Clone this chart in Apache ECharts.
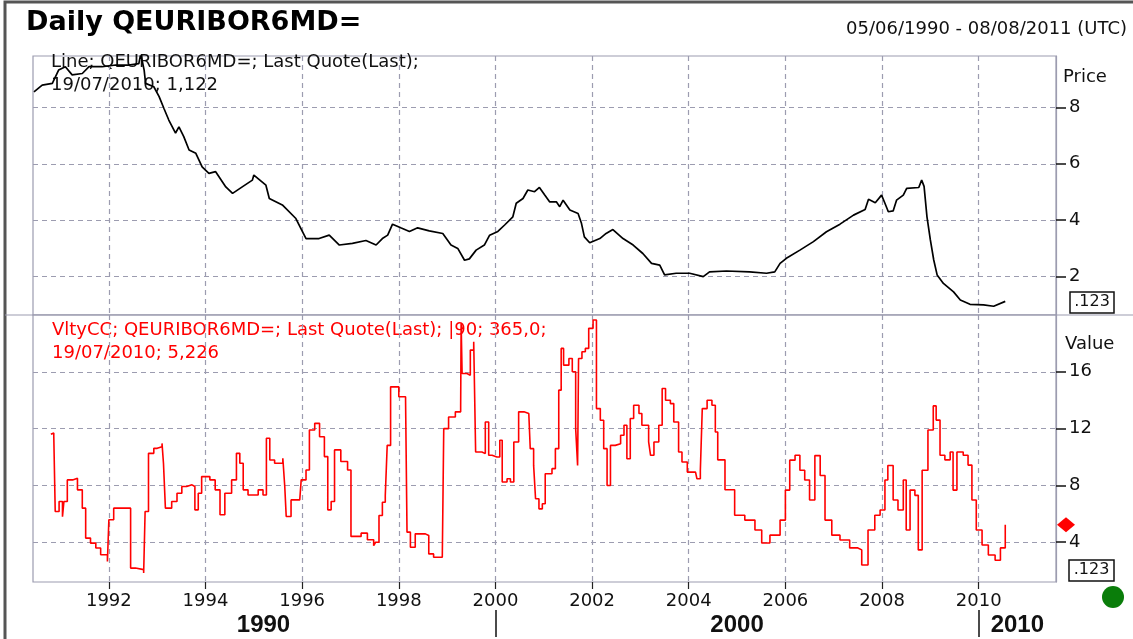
<!DOCTYPE html>
<html><head><meta charset="utf-8">
<script src="https://cdn.jsdelivr.net/npm/echarts@6/dist/echarts.min.js"></script>
<style>html,body{margin:0;padding:0;background:#fff}#c{width:1133px;height:639px}</style>
</head><body><div id="c"></div>
<script>
// ---- data (x values are decimal years) ----
const X_MIN = 1990.43;   // 05/06/1990
const X_MAX = 2011.60;   // 08/08/2011
const YEAR_TICKS = [1992, 1994, 1996, 1998, 2000, 2002, 2004, 2006, 2008, 2010];
const DECADE_LABELS = ['1990', '2000', '2010'];
const DECADE_LABEL_POS = [1995.2, 2005.0, 2010.8];
const DECADE_BREAKS = [2000, 2010];
const PRICE_TICKS = [2, 4, 6, 8];
const VALUE_TICKS = [4, 8, 12, 16];

const priceDates = [1990.45,1990.62,1990.83,1990.96,1991.10,1991.24,1991.45,1991.59,1991.86,1992.14,1992.41,1992.62,1992.66,1992.73,1992.76,1992.93,1993.04,1993.14,1993.24,1993.38,1993.45,1993.55,1993.66,1993.80,1993.93,1994.07,1994.21,1994.42,1994.56,1994.76,1994.97,1995.00,1995.25,1995.32,1995.59,1995.87,1996.08,1996.35,1996.56,1996.77,1997.04,1997.32,1997.53,1997.66,1997.77,1997.87,1998.04,1998.22,1998.39,1998.63,1998.91,1999.08,1999.22,1999.36,1999.46,1999.60,1999.77,1999.88,2000.05,2000.19,2000.36,2000.43,2000.57,2000.67,2000.81,2000.91,2001.02,2001.12,2001.26,2001.33,2001.40,2001.54,2001.71,2001.78,2001.84,2001.95,2002.16,2002.29,2002.43,2002.64,2002.85,2003.05,2003.23,2003.40,2003.50,2003.74,2004.02,2004.30,2004.43,2004.78,2005.26,2005.61,2005.78,2005.89,2006.02,2006.30,2006.58,2006.85,2007.13,2007.41,2007.65,2007.72,2007.86,2007.99,2008.06,2008.13,2008.23,2008.30,2008.44,2008.51,2008.76,2008.82,2008.87,2008.93,2009.00,2009.07,2009.14,2009.27,2009.48,2009.62,2009.82,2010.10,2010.31,2010.55];
const priceValues = [8.55,8.79,8.85,9.32,9.44,9.15,9.20,9.44,9.44,9.50,9.50,9.55,9.90,9.32,8.85,8.73,8.38,7.96,7.55,7.09,7.31,6.96,6.49,6.37,5.89,5.66,5.72,5.18,4.95,5.18,5.42,5.60,5.24,4.77,4.54,4.06,3.35,3.35,3.47,3.12,3.18,3.28,3.12,3.35,3.47,3.86,3.73,3.60,3.73,3.62,3.53,3.12,3.00,2.58,2.63,2.94,3.12,3.47,3.60,3.83,4.12,4.60,4.77,5.07,5.01,5.16,4.89,4.65,4.65,4.48,4.71,4.36,4.24,3.89,3.41,3.20,3.35,3.53,3.67,3.35,3.12,2.82,2.47,2.41,2.06,2.12,2.12,2.00,2.17,2.20,2.17,2.12,2.17,2.47,2.65,2.94,3.24,3.59,3.86,4.18,4.38,4.74,4.62,4.89,4.60,4.30,4.33,4.71,4.89,5.13,5.16,5.42,5.20,4.12,3.30,2.59,2.06,1.76,1.46,1.17,1.02,1.00,0.95,1.122];

const vltyDates = [1990.80,1990.83,1990.86,1990.89,1990.97,1991.04,1991.07,1991.14,1991.25,1991.35,1991.45,1991.52,1991.62,1991.73,1991.83,1991.97,1992.00,1992.10,1992.38,1992.45,1992.55,1992.72,1992.75,1992.82,1992.93,1993.00,1993.10,1993.13,1993.17,1993.30,1993.41,1993.51,1993.61,1993.72,1993.78,1993.85,1993.92,1994.09,1994.20,1994.30,1994.40,1994.54,1994.64,1994.71,1994.78,1994.88,1995.09,1995.19,1995.26,1995.33,1995.43,1995.60,1995.64,1995.67,1995.77,1995.95,1995.98,1996.08,1996.15,1996.26,1996.36,1996.46,1996.53,1996.60,1996.67,1996.80,1996.94,1997.01,1997.22,1997.35,1997.48,1997.52,1997.59,1997.66,1997.72,1997.76,1997.83,1997.90,1998.00,1998.14,1998.17,1998.24,1998.34,1998.55,1998.62,1998.72,1998.90,1998.93,1999.03,1999.17,1999.28,1999.29,1999.31,1999.41,1999.48,1999.55,1999.59,1999.72,1999.79,1999.86,1999.93,2000.03,2000.09,2000.14,2000.24,2000.31,2000.38,2000.48,2000.59,2000.69,2000.72,2000.79,2000.83,2000.90,2000.97,2001.03,2001.17,2001.24,2001.31,2001.36,2001.41,2001.52,2001.59,2001.66,2001.70,2001.72,2001.79,2001.86,2001.93,2002.02,2002.09,2002.17,2002.24,2002.31,2002.38,2002.48,2002.59,2002.66,2002.72,2002.79,2002.86,2002.97,2003.03,2003.10,2003.17,2003.21,2003.28,2003.38,2003.45,2003.52,2003.62,2003.69,2003.79,2003.86,2003.97,2004.14,2004.17,2004.24,2004.28,2004.38,2004.48,2004.55,2004.60,2004.75,2004.95,2005.16,2005.37,2005.51,2005.68,2005.89,2006.00,2006.09,2006.20,2006.30,2006.40,2006.50,2006.61,2006.72,2006.82,2006.96,2007.13,2007.33,2007.50,2007.58,2007.71,2007.85,2007.96,2008.06,2008.12,2008.23,2008.33,2008.44,2008.50,2008.58,2008.68,2008.75,2008.83,2008.95,2009.06,2009.12,2009.20,2009.30,2009.41,2009.47,2009.55,2009.68,2009.78,2009.86,2009.95,2010.07,2010.20,2010.34,2010.45,2010.55];
const vltyValues = [11.6,11.7,11.5,6.16,6.87,5.80,6.87,8.39,8.50,7.69,6.40,4.29,3.94,3.59,3.12,2.65,5.58,6.40,6.40,2.18,2.07,1.83,6.16,10.26,10.61,10.73,10.96,9.56,6.40,6.87,7.45,7.92,8.04,7.92,6.28,7.45,8.62,8.39,7.69,5.93,7.45,8.39,10.26,9.56,7.69,7.33,7.69,7.33,11.32,9.79,9.56,9.91,7.92,5.81,6.98,6.98,8.39,9.09,11.90,12.37,11.43,10.03,6.28,6.87,10.50,9.68,9.09,4.41,4.64,4.17,3.76,4.00,5.88,6.82,7.29,10.82,14.94,14.94,14.24,14.00,4.71,3.65,4.59,4.47,3.18,2.94,2.94,12.00,12.82,13.18,13.65,19.40,15.88,15.76,17.53,18.12,10.35,10.24,12.47,10.12,10.00,10.00,11.18,8.24,8.47,8.24,11.06,13.18,13.06,13.06,10.59,9.41,7.06,6.35,6.71,8.82,9.18,10.59,14.71,17.65,16.47,16.94,16.00,12.00,9.41,16.94,17.41,17.65,19.06,19.65,13.41,12.59,10.59,8.00,10.82,10.94,11.53,12.24,9.88,12.71,13.65,13.06,12.24,12.24,11.06,10.12,11.06,12.24,14.82,14.00,13.76,12.47,10.35,9.65,8.94,9.06,8.47,9.06,13.41,14.00,13.65,11.76,9.80,7.70,5.90,5.56,4.86,3.95,4.50,5.56,7.67,9.78,10.13,9.07,8.38,6.97,10.10,8.70,5.56,4.50,4.16,3.60,3.46,2.40,4.86,5.90,6.27,8.38,9.40,6.97,6.27,8.38,4.86,7.67,7.30,3.46,9.07,11.90,13.60,12.60,10.13,9.80,10.35,7.67,10.35,10.13,9.43,6.97,4.86,3.80,3.10,2.73,3.60,5.226];

// ---- build ----
const FONT = 'DejaVu Sans';
const GRID_COLOR = '#9c9cb0';
const pricePts = priceDates.map((d, i) => [d, priceValues[i]]);
const vltyPts = vltyDates.map((d, i) => [d, vltyValues[i]]);

function xAxisBase(gi) {
  return {
    type: 'value', gridIndex: gi, min: X_MIN, max: X_MAX,
    axisLine: { show: false },
    axisTick: { show: gi === 1, customValues: YEAR_TICKS, inside: false, length: 7,
      lineStyle: { color: '#222', width: 1.2 } },
    axisLabel: { show: gi === 1, customValues: YEAR_TICKS, margin: 10,
      fontFamily: FONT, fontSize: 18, color: '#111', formatter: v => String(Math.round(v)) },
    splitLine: { show: true, lineStyle: { color: GRID_COLOR, type: [5, 4], width: 1.2 } }
  };
}
function yAxisBase(gi, min, max, ticks) {
  return {
    type: 'value', gridIndex: gi, position: 'right', min: min, max: max,
    axisLine: { show: true, lineStyle: { color: GRID_COLOR, width: 1.2 } },
    axisTick: { show: true, customValues: ticks, length: 10, lineStyle: { color: '#111', width: 1.5 } },
    axisLabel: { customValues: ticks, margin: 13, fontFamily: FONT, fontSize: 18, color: '#111' },
    splitLine: { show: true, lineStyle: { color: GRID_COLOR, type: [5, 4], width: 1.2 } }
  };
}

const decadeAxis = {
  type: 'value', gridIndex: 1, position: 'bottom', offset: 28, min: X_MIN, max: X_MAX,
  axisLine: { show: false },
  axisTick: { show: true, customValues: DECADE_BREAKS, length: 27, lineStyle: { color: '#111', width: 1.5 } },
  axisLabel: { customValues: DECADE_LABEL_POS, margin: 3, fontFamily: 'Liberation Sans', fontWeight: 'bold',
    fontSize: 24, color: '#111',
    formatter: v => DECADE_LABELS[DECADE_LABEL_POS.findIndex(p => Math.abs(p - v) < 1e-6)] || '' },
  splitLine: { show: false }
};

const txt = (x, y, s, opts) => Object.assign({ type: 'text', x: x, y: y, style: Object.assign({
  text: s, fontFamily: FONT, fontSize: 18, fill: '#111' }, opts || {}) });

const option = {
  animation: false,
  backgroundColor: '#fff',
  grid: [
    { left: 33, top: 56, width: 1023, height: 259, show: true, borderColor: GRID_COLOR, borderWidth: 1.2, backgroundColor: '#fff' },
    { left: 33, top: 315, width: 1023, height: 267, show: true, borderColor: GRID_COLOR, borderWidth: 1.2, backgroundColor: '#fff' }
  ],
  xAxis: [xAxisBase(0), xAxisBase(1), decadeAxis],
  yAxis: [yAxisBase(0, 0.64, 9.82, PRICE_TICKS), yAxisBase(1, 1.2, 20, VALUE_TICKS)],
  series: [
    { type: 'line', xAxisIndex: 0, yAxisIndex: 0, data: pricePts, showSymbol: false,
      lineStyle: { color: '#000', width: 1.7 }, z: 3 },
    { type: 'line', xAxisIndex: 1, yAxisIndex: 1, data: vltyPts, showSymbol: false, step: 'end',
      lineStyle: { color: '#ff0000', width: 1.6 }, z: 3,
      markPoint: { symbol: 'diamond', symbolSize: [18, 15], symbolOffset: [10, 0],
        itemStyle: { color: '#ff0000' }, label: { show: false },
        data: [{ coord: [X_MAX, vltyValues[vltyValues.length - 1]] }] } }
  ],
  graphic: [
    { type: 'polyline', shape: { points: [[5, 660], [5, 2], [1140, 2]] }, style: { stroke: '#555', lineWidth: 3, fill: null } },
    { type: 'line', shape: { x1: 5, y1: 315, x2: 1133, y2: 315 }, style: { stroke: GRID_COLOR, lineWidth: 1.2 } },
    txt(26, 9, 'Daily QEURIBOR6MD=', { fontSize: 27, fontWeight: 'bold', fill: '#000' }),
    txt(1127, 20, '05/06/1990 - 08/08/2011 (UTC)', { fontSize: 18, align: 'right' }),
    txt(51, 53, 'Line; QEURIBOR6MD=; Last Quote(Last);'),
    txt(51, 76, '19/07/2010; 1,122'),
    txt(52, 321, 'VltyCC; QEURIBOR6MD=; Last Quote(Last); |90; 365,0;', { fill: '#ff0000' }),
    txt(52, 344, '19/07/2010; 5,226', { fill: '#ff0000' }),
    txt(1063, 68, 'Price'),
    txt(1065, 335, 'Value'),
    { type: 'rect', shape: { x: 1070, y: 292, width: 44, height: 21 }, style: { fill: '#fff', stroke: '#111', lineWidth: 1.5 } },
    txt(1092, 294, '.123', { fontSize: 16, align: 'center' }),
    { type: 'rect', shape: { x: 1069, y: 560, width: 45, height: 21 }, style: { fill: '#fff', stroke: '#111', lineWidth: 1.5 } },
    txt(1091.5, 562, '.123', { fontSize: 16, align: 'center' }),
    { type: 'circle', shape: { cx: 1113, cy: 597, r: 11 }, style: { fill: '#0a7d0a' } }
  ]
};

const chart = echarts.init(document.getElementById('c'), null, { renderer: 'canvas' });
chart.setOption(option);
</script></body></html>
